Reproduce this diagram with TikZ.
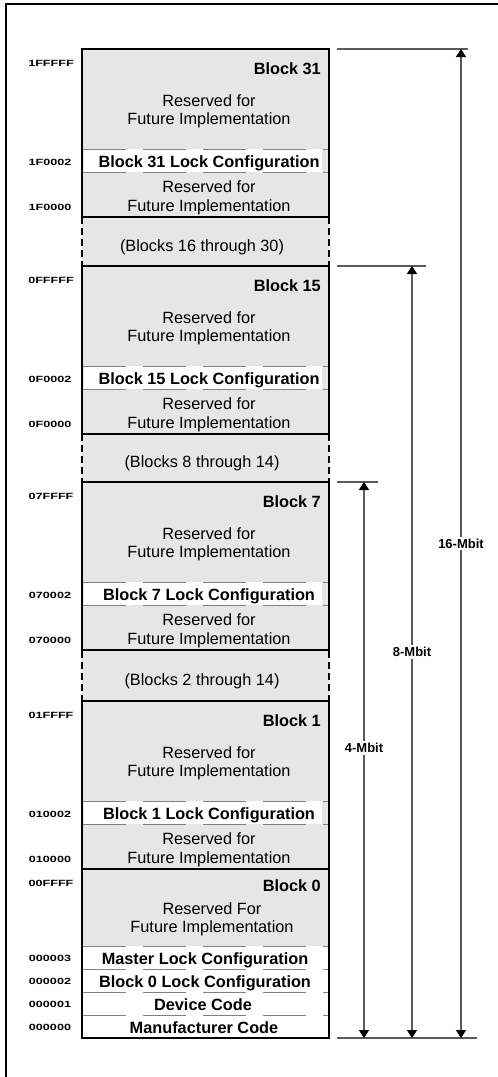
\documentclass[tikz,border=0pt]{standalone}
\usepackage{fontspec}
\setmainfont{Liberation Sans}
\usetikzlibrary{arrows.meta}
\definecolor{PanelGray}{HTML}{E6E6E6}
\definecolor{RuleGray}{HTML}{808080}
\definecolor{DimGray}{HTML}{5A5A5A}
\newcommand{\addr}[1]{\scalebox{1.4}[1]{\bfseries\fontsize{9}{10}\selectfont #1}}

\begin{document}
\begin{tikzpicture}[x=1pt,y=-1pt,
  blocktxt/.style={inner sep=0pt, align=center, font=\fontsize{16.3}{18.5}\selectfont},
  plaintxt/.style={inner sep=0pt, anchor=base, font=\fontsize{16.3}{18.5}\selectfont},
  blockhdr/.style={inner sep=0pt, anchor=base east, font=\bfseries\fontsize{16.3}{18.5}\selectfont},
  boldtxt/.style={inner sep=0pt, anchor=base, font=\bfseries\fontsize{16.3}{18.5}\selectfont},
  addrlab/.style={inner sep=0pt},
  lockdash/.style={RuleGray, line width=1pt, dash pattern=on 43pt off 17pt},
  blockedge/.style={line width=2.5pt},
  gapedge/.style={line width=2.3pt, dash pattern=on 7pt off 4pt},
  sizetick/.style={DimGray, line width=1.3pt},
  sizespan/.style={DimGray, line width=1.3pt,
    {Triangle[width=10pt,length=8pt,color=black]}-{Triangle[width=10pt,length=8pt,color=black]}},
  sizelab/.style={fill=white, text=black, inner sep=2pt, font=\bfseries\fontsize{13}{15}\selectfont}]
\useasboundingbox (0,0) rectangle (498,1077);

% --- frame ---
\draw[line width=2.3pt] (6,1077) -- (6,4) -- (498,4);

% --- gaps between blocks ---
\foreach \ya/\yb/\lab in {217/266/16 through 30, 434/482/8 through 14, 651/701/2 through 14}{
  \fill[PanelGray] (82,\ya) rectangle (329,\yb);
  \draw[gapedge] (82,\ya) -- (82,\yb);
  \draw[gapedge] (329,\ya) -- (329,\yb);
  \node[plaintxt] (gap-\ya) at (202,{(\ya+\yb)/2+9.5}) {(Blocks \lab)};
}

% --- blocks 31, 15, 7, 1 ---
\foreach \n/\yy/\pre in {31/49/1F, 15/266/0F, 7/482/07, 1/701/01}{
  \fill[PanelGray] (82,\yy) rectangle (329,\yy+168);
  \fill[white] (84,\yy+100) rectangle (322,\yy+123);
  \draw[lockdash] (83,\yy+100) -- (328,\yy+100);
  \draw[lockdash] (83,\yy+123) -- (328,\yy+123);
  \draw[blockedge] (82,\yy) rectangle (329,\yy+168);
  \node[blockhdr] (hdr-\n) at (321,\yy+25.5) {Block \n};
  \node[blocktxt] (res-\n) at (209,\yy+62.5) {Reserved for\\Future Implementation};
  \node[boldtxt] (lock-\n) at (209,\yy+118.5) {Block \n\ Lock Configuration};
  \node[blocktxt] (low-\n) at (209,\yy+149) {Reserved for\\Future Implementation};
  \node[addrlab] (a-\n-top) at (51,\yy+14) {\addr{\pre FFFF}};
  \node[addrlab] (a-\n-lock) at (50,\yy+113) {\addr{\pre 0002}};
  \node[addrlab] (a-\n-bot) at (50,\yy+158) {\addr{\pre 0000}};
}

% --- block 0 ---
\fill[PanelGray] (82,869) rectangle (329,946);
\fill[white] (84,946) rectangle (327,1038);
\foreach \yy in {946,969,992,1015}
  \draw[lockdash] (83,\yy) -- (328,\yy);
\draw[blockedge] (82,869) rectangle (329,1038);
\node[blockhdr] (hdr-0) at (321,891.5) {Block 0};
\node[blocktxt] (res-0) at (212,919.5) {Reserved For\\Future Implementation};
\node[addrlab] (a-0-top) at (51,883) {\addr{00FFFF}};
\foreach \yy/\lab/\x/\adr [count=\k] in {957.5/Master Lock Configuration/205/000003,
    980.5/Block 0 Lock Configuration/205/000002, 1003.5/Device Code/203/000001,
    1026.5/Manufacturer Code/204/000000}{
  \node[boldtxt] (row-\k) at (\x,\yy+6.5) {\lab};
  \node[addrlab] (a-0-\k) at (50,\yy+1) {\addr{\adr}};
}

% --- size spans ---
\coordinate (t16-l) at (337,49);    \coordinate (t16-r) at (468,49);
\coordinate (t8-l) at (337,266);    \coordinate (t8-r) at (426,266);
\coordinate (t4-l) at (337,482);    \coordinate (t4-r) at (378,482);
\coordinate (tb-l) at (337,1038);   \coordinate (tb-r) at (477,1038);
\foreach \s in {16,8,4,b}
  \draw[sizetick] (t\s-l) -- (t\s-r);
\coordinate (s16-top) at (461,49);  \coordinate (s16-bot) at (461,1038);
\coordinate (s8-top) at (412,266);  \coordinate (s8-bot) at (412,1038);
\coordinate (s4-top) at (364,482);  \coordinate (s4-bot) at (364,1038);
\foreach \s/\p in {16/0.5,8/0.5,4/0.478}
  \draw[sizespan] (s\s-top) -- (s\s-bot) node[sizelab, pos=\p] (lab-\s) {\s-Mbit};
\end{tikzpicture}
\end{document}
